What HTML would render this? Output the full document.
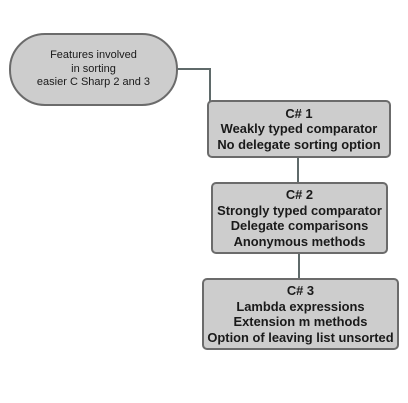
<!DOCTYPE html>
<html><head><style>
body{margin:0;width:408px;height:403px;background:#fff;position:relative;font-family:"Liberation Sans",sans-serif;color:#1a1a1a;overflow:hidden}
.b{position:absolute;box-sizing:border-box;border:2px solid #6b6b6b;background:#cdcdcd;display:flex;align-items:center;justify-content:center;text-align:center}
.bx{font-weight:bold;font-size:12.9px;line-height:15.5px;border-radius:5px;white-space:nowrap}
.l{position:absolute;background:#5f6a6a}
</style></head><body>
<div class="l" style="left:176px;top:68px;width:35px;height:2px"></div>
<div class="l" style="left:209px;top:68px;width:2px;height:34px"></div>
<div class="l" style="left:297px;top:156px;width:2px;height:28px"></div>
<div class="l" style="left:298px;top:252px;width:2px;height:28px"></div>
<div class="b" style="left:9px;top:33px;width:169px;height:73px;border-radius:36px;font-size:11px;line-height:13.5px;border-width:2.5px">Features involved<br>in sorting<br>easier C Sharp 2 and 3</div>
<div class="b bx" style="left:207px;top:100px;width:184px;height:58px">C# 1<br>Weakly typed comparator<br>No delegate sorting option</div>
<div class="b bx" style="left:211px;top:182px;width:177px;height:72px">C# 2<br>Strongly typed comparator<br>Delegate comparisons<br>Anonymous methods</div>
<div class="b bx" style="left:202px;top:278px;width:197px;height:72px">C# 3<br>Lambda expressions<br>Extension m methods<br>Option of leaving list unsorted</div>
</body></html>
